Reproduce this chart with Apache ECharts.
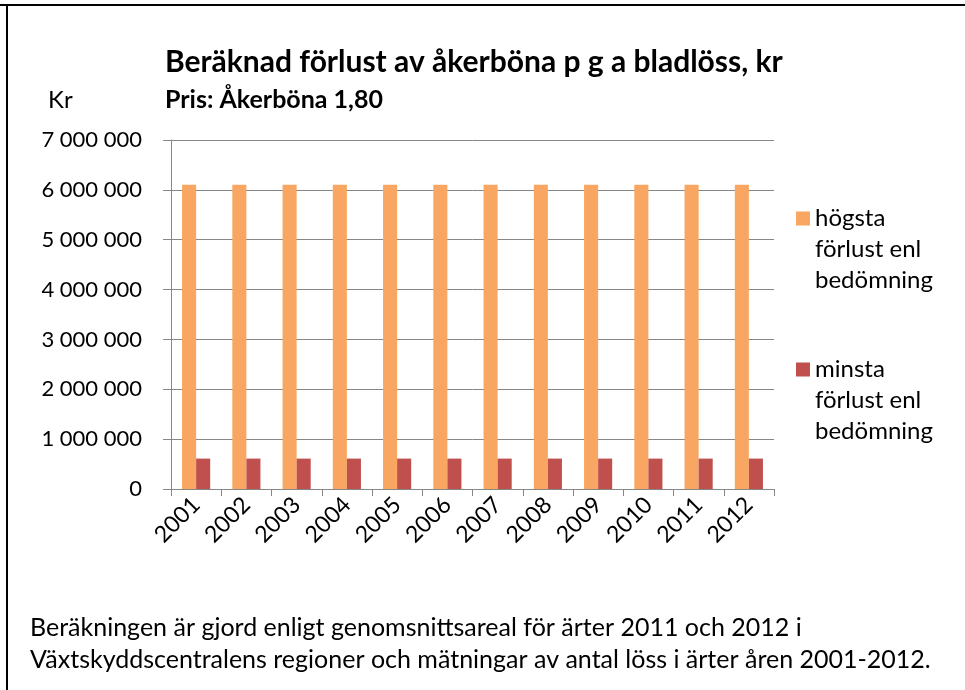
<!DOCTYPE html>
<html>
<head>
<meta charset="utf-8">
<script src="https://cdn.jsdelivr.net/npm/echarts@6/dist/echarts.min.js"></script>
<style>
	html, body { margin: 0; padding: 0; background: #fff; }
	#main { width: 965px; height: 690px; }
</style>
</head>
<body>
<div id="main"></div>
<script>
	// data
	var years = ['2001', '2002', '2003', '2004', '2005', '2006', '2007', '2008', '2009', '2010', '2011', '2012'];
	var hogsta = [6100000, 6100000, 6100000, 6100000, 6100000, 6100000, 6100000, 6100000, 6100000, 6100000, 6100000, 6100000];
	var minsta = [610000, 610000, 610000, 610000, 610000, 610000, 610000, 610000, 610000, 610000, 610000, 610000];
	var seriesNames = ['högsta\nförlust enl\nbedömning', 'minsta\nförlust enl\nbedömning'];

	var font = 'Lato, "Noto Sans", sans-serif';
	var axisGrey = '#878787';

	var myChart = echarts.init(document.getElementById('main'));

	// tal med mellanslag som tusentalsavgränsare
	function fmt(v) {
		return String(v).replace(/\B(?=(\d{3})+(?!\d))/g, ' ');
	}

	// legendruta i höjd med första textraden (ikonen är lika hög som tre rader)
	var legendIcon = 'path://M0,0M0,8.5h14v14h-14zM14,93';

	var option = {
		animation: false,
		textStyle: { fontFamily: font, color: '#000' },
		title: [{
			text: 'Beräknad förlust av åkerböna p g a bladlöss, kr',
			left: 165, top: 44, padding: 0,
			textStyle: { fontSize: 30, lineHeight: 36, fontWeight: 'bold', fontFamily: font, color: '#000' }
		}, {
			text: 'Pris: Åkerböna 1,80',
			left: 165, top: 85, padding: 0,
			textStyle: { fontSize: 25, lineHeight: 30, fontWeight: 'bold', fontFamily: font, color: '#000' }
		}, {
			text: 'Kr',
			left: 48, top: 85, padding: 0,
			textStyle: { fontSize: 24, lineHeight: 30, fontWeight: 'normal', fontFamily: font, color: '#000' }
		}, {
			text: 'Beräkningen är gjord enligt genomsnittsareal för ärter 2011 och 2012 i\nVäxtskyddscentralens regioner och mätningar av antal löss i ärter åren 2001-2012.',
			left: 30, top: 612, padding: 0,
			textStyle: { fontSize: 25, lineHeight: 32, fontWeight: 'normal', fontFamily: font, color: '#000' }
		}],
		legend: {
			orient: 'vertical',
			left: 796, top: 203,
			padding: 0,
			itemWidth: 14, itemHeight: 93,
			itemGap: 58,
			icon: legendIcon,
			textStyle: { fontSize: 24, lineHeight: 31, fontFamily: font, color: '#000' },
			data: seriesNames
		},
		grid: { left: 171, top: 140, width: 603, height: 349, containLabel: false },
		xAxis: {
			type: 'category',
			data: years,
			axisLine: { lineStyle: { color: axisGrey, width: 1 } },
			axisTick: { show: true, length: 7, lineStyle: { color: axisGrey } },
			axisLabel: { rotate: 45, fontSize: 23, color: '#000', margin: 12, interval: 0, fontFamily: font }
		},
		yAxis: {
			type: 'value',
			min: 0, max: 7000000, interval: 1000000,
			axisLine: { show: true, lineStyle: { color: axisGrey, width: 1 } },
			axisTick: { show: true, length: 8, lineStyle: { color: axisGrey } },
			axisLabel: { fontSize: 22, color: '#000', margin: 29, fontFamily: font, formatter: fmt },
			splitLine: { show: true, lineStyle: { color: axisGrey, width: 1 } }
		},
		series: [{
			name: seriesNames[0],
			type: 'bar',
			data: hogsta,
			barGap: '0%',
			barCategoryGap: '44%',
			itemStyle: { color: '#F8A661' }
		}, {
			name: seriesNames[1],
			type: 'bar',
			data: minsta,
			itemStyle: { color: '#C0504D' }
		}],
		graphic: [{
			type: 'line',
			shape: { x1: 0, y1: 5, x2: 965, y2: 5 },
			style: { stroke: '#000', lineWidth: 2 }
		}, {
			type: 'line',
			shape: { x1: 7, y1: 4, x2: 7, y2: 690 },
			style: { stroke: '#000', lineWidth: 2 }
		}]
	};

	myChart.setOption(option);
</script>
</body>
</html>
